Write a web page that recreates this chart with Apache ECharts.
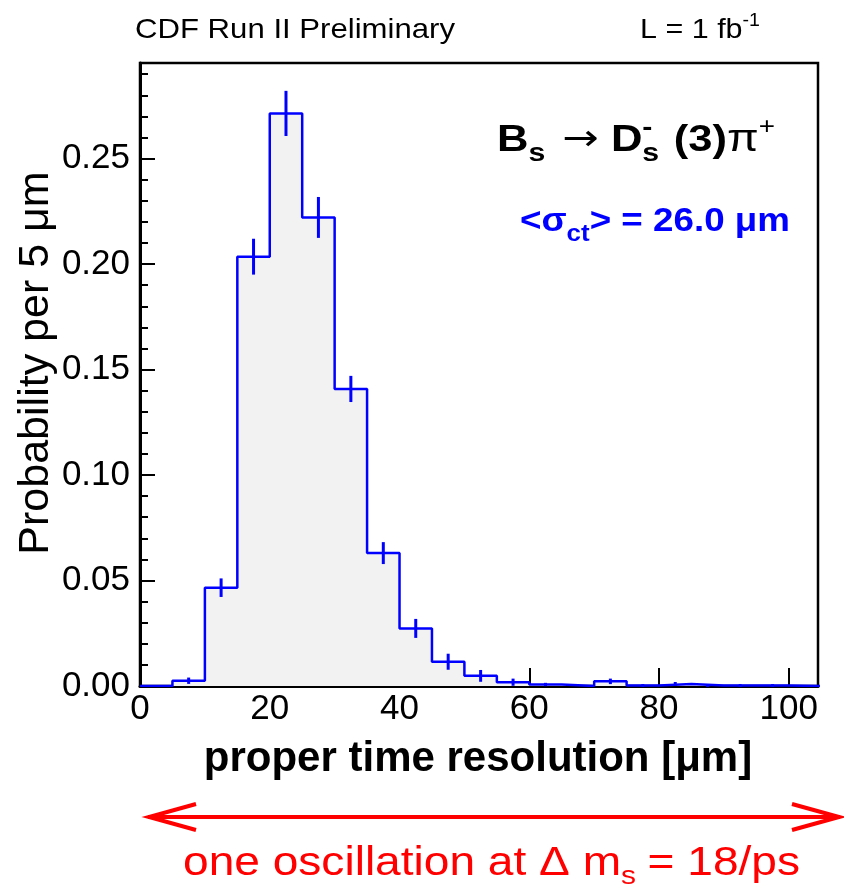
<!DOCTYPE html>
<html>
<head>
<meta charset="utf-8">
<script src="https://cdn.jsdelivr.net/npm/echarts@6/dist/echarts.min.js"></script>
<style>
html,body{margin:0;padding:0;background:#fff;}
#chart{width:844px;height:892px;}
</style>
</head>
<body>
<div id="chart"></div>
<script>
// ---- data ----
var binWidth = 5;
var binStarts = [0,5,10,15,20,25,30,35,40,45,50,55,60,65,70,75,80,85,90,95,100];
var probValues = [0,0.0025,0.0466,0.2035,0.2714,0.2221,0.1408,0.0630,0.0273,0.0115,0.0048,0.0018,0.0007,0,0.0022,0.0002,0.0010,0.0002,0.0002,0.0002,0];
var probErrors = [0,0.0015,0.0044,0.0085,0.0107,0.0097,0.0062,0.0052,0.0045,0.0038,0.0028,0.0017,0.0008,0,0.0013,0.0007,0.0009,0.0007,0.0007,0.0007,0];
var xTicks = [0,20,40,60,80,100];
var yTicks = [0,0.05,0.10,0.15,0.20,0.25];

var stepData = binStarts.map(function(x,i){return [x, probValues[i]];});
stepData.push([binStarts[binStarts.length-1]+binWidth, 0]);
var errData = [];
binStarts.forEach(function(x,i){ if (probErrors[i] > 0) errData.push([x+binWidth/2, probValues[i], probErrors[i]]); });

var FONT = '"Liberation Sans", Arial, Helvetica, sans-serif';
var chart = echarts.init(document.getElementById('chart'), null, {renderer:'canvas'});

var mctx = document.createElement('canvas').getContext('2d');
function measure(t, font){ mctx.font = font; return mctx.measureText(t).width; }
// a run of text pieces (sub/superscripts), optionally stretched to a target width
function run(pieces, x0, y0, targetW, color){
  var cx = 0, children = [];
  pieces.forEach(function(p){
    if (p.gap){ cx += p.gap; return; }
    var font = (p.weight||'normal')+' '+p.size+'px '+(p.family||FONT);
    children.push({type:'text', x:cx, y:(p.dy||0), z:100,
      style:{text:p.t, font:font, fill:color, align:'left', verticalAlign:'middle'}});
    if (!p.noAdvance) cx += measure(p.t, font);
  });
  var sx = targetW ? targetW/cx : 1;
  return {type:'group', x:x0, y:y0, scaleX:sx, z:100, children:children};
}

var option = {
  animation:false,
  backgroundColor:'#fff',
  grid:{left:140, top:63, width:678, height:623, show:true, borderColor:'#000', borderWidth:2.5, backgroundColor:'transparent'},
  xAxis:{
    type:'value', min:0, max:104.5, interval:20,
    axisLine:{show:true, onZero:false, lineStyle:{color:'#000', width:3}},
    axisTick:{show:true, inside:true, length:18, lineStyle:{color:'#000', width:2}},
    axisLabel:{show:true, color:'#000', fontFamily:FONT, fontSize:35, margin:6, showMaxLabel:false,
      formatter:function(v){ return xTicks.indexOf(v)>=0 ? String(v) : ''; }},
    splitLine:{show:false}
  },
  yAxis:{
    type:'value', min:0, max:0.2953, interval:0.05,
    axisLine:{show:true, onZero:false, lineStyle:{color:'#000', width:3}},
    axisTick:{show:true, inside:true, length:15, lineStyle:{color:'#000', width:2}},
    minorTick:{show:true, splitNumber:5, length:8, lineStyle:{color:'#000', width:2}},
    axisLabel:{show:true, color:'#000', fontFamily:FONT, fontSize:35, margin:10, showMaxLabel:false,
      formatter:function(v){ return v.toFixed(2); }},
    splitLine:{show:false}
  },
  series:[
    {
      type:'line', step:'end', data:stepData, symbol:'none', clip:true,
      lineStyle:{color:'#0000ff', width:2.5},
      areaStyle:{color:'#f2f2f2', opacity:1, origin:'start'},
      z:2
    },
    {
      type:'custom', data:errData, clip:false, z:3,
      renderItem:function(params, api){
        var x = api.value(0), v = api.value(1), e = api.value(2);
        var p1 = api.coord([x, v-e]), p2 = api.coord([x, v+e]);
        return {type:'line', shape:{x1:p1[0], y1:p1[1], x2:p2[0], y2:p2[1]}, style:{stroke:'#0000ff', lineWidth:3}};
      }
    }
  ],
  graphic:[
    run([{t:'CDF Run II Preliminary', size:28}], 135, 30, 320, '#000'),
    run([{t:'L = 1 fb', size:28}, {t:'-1', size:18, dy:-9}], 640, 30, 120, '#000'),
    run([
      {t:'B', size:36, weight:'bold'}, {t:'s', size:25, weight:'bold', dy:13}, {gap:14},
      {t:'\u2192', size:36, family:'"DejaVu Sans", sans-serif'}, {gap:10},
      {t:'D', size:36, weight:'bold'}, {t:'-', size:25, weight:'bold', dy:-13, noAdvance:true},
      {t:'s', size:25, weight:'bold', dy:13}, {gap:12},
      {t:'(3)', size:36, weight:'bold'}, {t:'\u03c0', size:38}, {t:'+', size:23, dy:-13}
    ], 497, 141, 278, '#000'),
    run([
      {t:'<\u03c3', size:34, weight:'bold'}, {t:'ct', size:24, weight:'bold', dy:12},
      {t:'> = 26.0 \u03bcm', size:34, weight:'bold'}
    ], 520, 222, 270, '#0000ff'),
    {type:'text', x:36, y:363, rotation:Math.PI/2, z:100,
      style:{text:'Probability per 5 \u03bcm', fill:'#000', font:'normal 43px '+FONT, align:'center', verticalAlign:'middle'}},
    {type:'text', x:478, y:759, z:100,
      style:{text:'proper time resolution [\u03bcm]', fill:'#000', font:'bold 42px '+FONT, align:'center', verticalAlign:'middle'}},
    {type:'polyline', z:100, shape:{points:[[148,817],[840,817]]}, style:{stroke:'#ff0000', lineWidth:4, fill:null}},
    {type:'polyline', z:100, shape:{points:[[196,804],[149,817],[196,830]]}, style:{stroke:'#ff0000', lineWidth:4, fill:null}},
    {type:'polyline', z:100, shape:{points:[[792,804],[839,817],[792,830]]}, style:{stroke:'#ff0000', lineWidth:4, fill:null}},
    run([
      {t:'one oscillation at \u0394 m', size:40}, {t:'s', size:26, dy:13}, {gap:10},
      {t:'= 18/ps', size:40}
    ], 183, 864, 617, '#ff0000')
  ]
};
chart.setOption(option);
</script>
</body>
</html>
